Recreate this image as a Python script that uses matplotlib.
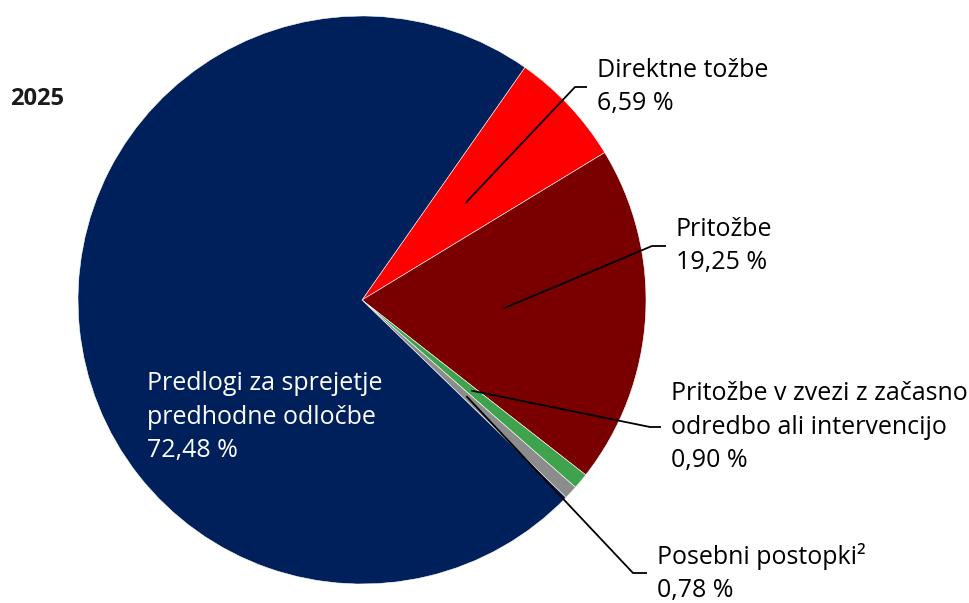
import matplotlib.pyplot as plt
import numpy as np

plt.rcParams['font.family'] = ['Open Sans', 'DejaVu Sans']

# Podatki
naslov = "2025"
oznake = ["Direktne tožbe", "Pritožbe",
          "Pritožbe v zvezi z začasno\nodredbo ali intervencijo",
          "Posebni postopki²", "Predlogi za sprejetje\npredhodne odločbe"]
deleži = [6.59, 19.25, 0.90, 0.78, 72.48]
barve = ["#FF0000", "#7A0000", "#3FA34D", "#8C8C8C", "#00205B"]

# Postavitev (v pikslih slike, y navzgor)
W, H = 970, 603
CX, CY, R = 362, H - 300, 284
# pregibi vodilnih črt (x_pregib, y_pregib, x_konec)
pregibi = [(575, 87, 587), (652, 246, 666), (650, 427, 661), (633, 573, 647)]


def fmt(v):
    return f"{v:.2f}".replace(".", ",") + " %"


def graf():
    fig = plt.figure(figsize=(W / 100, H / 100), dpi=100)
    ax = fig.add_axes([0, 0, 1, 1])

    klini, _ = ax.pie(deleži, colors=barve, startangle=55, counterclock=False,
                      center=(CX, CY), radius=R, frame=True,
                      wedgeprops=dict(edgecolor="white", linewidth=0.4))
    ax.set_xlim(0, W)
    ax.set_ylim(0, H)
    ax.axis("off")

    for i, (px, py, ex) in enumerate(pregibi):
        k = klini[i]
        kot = np.deg2rad((k.theta1 + k.theta2) / 2)
        x0 = CX + 0.5 * R * np.cos(kot)
        y0 = CY + 0.5 * R * np.sin(kot)
        ax.plot([x0, px, ex], [y0, H - py, H - py], color="black", lw=1.3,
                solid_capstyle="butt")
        ax.text(ex + 10, H - py, oznake[i] + "\n" + fmt(deleži[i]),
                ha="left", va="center", fontsize=18, linespacing=1.45,
                color="black")

    ax.text(147, H - 417, oznake[4] + "\n" + fmt(deleži[4]), ha="left",
            va="center", fontsize=18, linespacing=1.45, color="white")
    ax.text(10, H - 99, naslov, ha="left", va="center", fontsize=17,
            fontweight="bold", color="#1a1a1a")

    fig.savefig("out.png", dpi=100)


if __name__ == '__main__':
    graf()
